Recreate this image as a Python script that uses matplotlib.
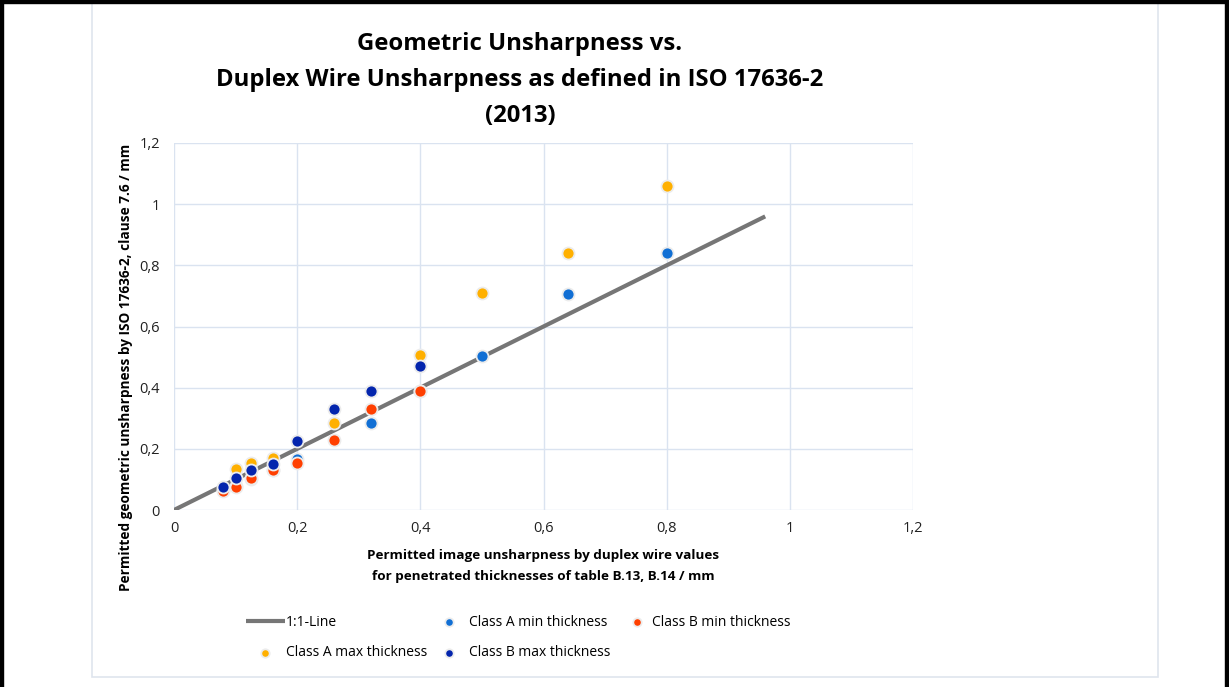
import matplotlib.pyplot as plt
from matplotlib.patches import Rectangle
from matplotlib.ticker import FuncFormatter

# duplex wire values / geometric unsharpness values (mm)
line_x = [0, 0.96]
line_y = [0, 0.96]

a_min_x = [0.08, 0.1, 0.125, 0.16, 0.2, 0.32, 0.4, 0.5, 0.64, 0.8]
a_min_y = [0.065, 0.08, 0.1, 0.13, 0.167, 0.285, 0.39, 0.505, 0.705, 0.84]

a_max_x = [0.1, 0.125, 0.16, 0.26, 0.4, 0.5, 0.64, 0.8]
a_max_y = [0.133, 0.155, 0.17, 0.285, 0.507, 0.708, 0.84, 1.06]

b_min_x = [0.08, 0.1, 0.125, 0.16, 0.2, 0.26, 0.32, 0.4]
b_min_y = [0.063, 0.074, 0.104, 0.13, 0.153, 0.228, 0.33, 0.39]

b_max_x = [0.08, 0.1, 0.125, 0.16, 0.2, 0.26, 0.32, 0.4]
b_max_y = [0.074, 0.104, 0.131, 0.15, 0.226, 0.33, 0.39, 0.47]

ticks = [0, 0.2, 0.4, 0.6, 0.8, 1.0, 1.2]

plt.rcParams['font.family'] = ['Open Sans', 'DejaVu Sans']

W, H = 1229, 687
fig = plt.figure(figsize=(W/100, H/100), dpi=100)

# outer frame + black edges of the screenshot
fig.patches.append(Rectangle((92/W, 10/H), (1158-92)/W, (684-10)/H,
                             transform=fig.transFigure, fill=False,
                             edgecolor='#dfe5ee', lw=1.2))
fig.patches.append(Rectangle((0, 0), 2.5/W, 1, transform=fig.transFigure,
                             color='black'))
fig.patches.append(Rectangle((0, 1-2.5/H), 1, 2.5/H, transform=fig.transFigure,
                             color='black'))
fig.patches.append(Rectangle((1-4/W, 0), 4/W, 1, transform=fig.transFigure,
                             color='black'))

ax = fig.add_axes([174/W, 1-510/H, (913-174)/W, (510-143)/H])

ln, = ax.plot(line_x, line_y, color='#767676', lw=3, solid_capstyle='butt',
              label='1:1-Line', zorder=2)
mk = dict(s=75, edgecolors='#ececec', linewidths=1.3, zorder=3)
s_amax = ax.scatter(a_max_x, a_max_y, color='#ffb000', **mk)
s_amin = ax.scatter(a_min_x, a_min_y, color='#116fd4', **mk)
s_bmin = ax.scatter(b_min_x, b_min_y, color='#ff3f00', **mk)
s_bmax = ax.scatter(b_max_x, b_max_y, color='#0425ad', **mk)

ax.set_xlim(0, 1.2)
ax.set_ylim(0, 1.2)
ax.set_xticks(ticks)
ax.set_yticks(ticks)
fmt = FuncFormatter(lambda v, p: ('%g' % round(v, 1)).replace('.', ','))
ax.xaxis.set_major_formatter(fmt)
ax.yaxis.set_major_formatter(fmt)
ax.tick_params(length=0, labelsize=10.5, colors='#222222')
ax.tick_params(axis='y', pad=10)
ax.tick_params(axis='x', pad=8)
ax.grid(True, color='#dae3f0', lw=1)
ax.set_axisbelow(True)
for s in ax.spines.values():
    s.set_visible(False)

ax.set_xlabel('Permitted image unsharpness by duplex wire values\n'
              'for penetrated thicknesses of table B.13, B.14 / mm',
              fontsize=9.7, fontweight='bold', linespacing=1.8)
ax.xaxis.set_label_coords((543-174)/739, -(566-510)/367)
ax.xaxis.label.set_va('center')
ax.set_ylabel('Permitted geometric unsharpness by ISO 17636-2, clause 7.6 / mm',
              fontsize=9.8, fontweight='bold')
ax.yaxis.set_label_coords(-(174-126)/739, (510-367)/367)
ax.yaxis.label.set_va('center')

fig.text(520/W, 1-80/H, 'Geometric Unsharpness vs.\n'
         'Duplex Wire Unsharpness as defined in ISO 17636-2\n(2013)',
         ha='center', va='center', fontsize=17.2, fontweight='bold',
         linespacing=1.64)

# legend in three column blocks, like the spreadsheet layout
leg_kw = dict(loc='upper left', frameon=False, fontsize=10, borderpad=0,
              borderaxespad=0, labelspacing=1.1, markerscale=0.7)
lg1 = fig.legend([ln, s_amax], ['1:1-Line', 'Class A max thickness'],
                 bbox_to_anchor=(246/W, 1-615/H), handlelength=2.8,
                 handletextpad=0.1, **leg_kw)
lg2 = fig.legend([s_amin, s_bmax], ['Class A min thickness', 'Class B max thickness'],
                 bbox_to_anchor=(430/W, 1-615/H), handlelength=2.8,
                 handletextpad=0.0, **leg_kw)
lg3 = fig.legend([s_bmin], ['Class B min thickness'],
                 bbox_to_anchor=(627/W, 1-615/H), handlelength=1.4,
                 handletextpad=0.4, **leg_kw)

fig.savefig('out.png', dpi=100)
